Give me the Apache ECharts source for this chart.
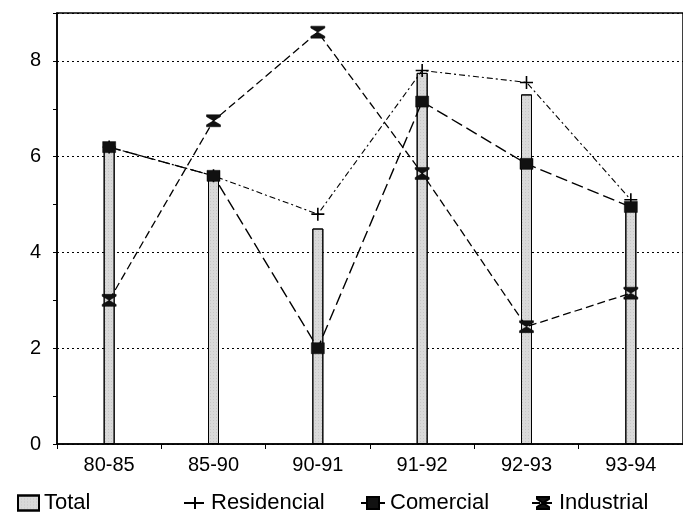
<!DOCTYPE html>
<html>
<head>
<meta charset="utf-8">
<script src="https://cdn.jsdelivr.net/npm/echarts@6/dist/echarts.min.js"></script>
<style>
  html, body { margin: 0; padding: 0; background: #fff; }
  #chart { width: 683px; height: 514px; }
</style>
</head>
<body>
<div id="chart"></div>
<script>
// values
const categories = ['80-85', '85-90', '90-91', '91-92', '92-93', '93-94']
const total = [6.2, 5.6, 4.5, 7.75, 7.3, 5.0]
const residencial = [6.2, 5.6, 4.8, 7.8, 7.55, 5.1]
const comercial = [6.2, 5.6, 2.0, 7.15, 5.85, 4.95]
const industrial = [3.0, 6.75, 8.6, 5.65, 2.45, 3.15]

const font = '"Liberation Sans", Arial, sans-serif'
const plus = 'path://M5,0 L5,10 M0,5 L10,5'
const hourglass = 'path://M0,0 L10,0 L10,1.6 L5,5 L10,8.4 L10,10 L0,10 L0,8.4 L5,5 L0,1.6 Z'

const chart = echarts.init(document.getElementById('chart'))

const lineSeries = (name, data, symbol, size, dash, width, hollow) => ({
  name,
  type: 'line',
  data,
  symbol,
  symbolSize: size,
  z: 3,
  lineStyle: { color: '#000', width, type: dash },
  itemStyle: hollow
    ? { color: 'transparent', borderColor: '#000', borderWidth: 1.6 }
    : { color: '#111', borderColor: '#000', borderWidth: 0.5 }
})

// one legend per item so each sits where it does in the scan
const legendAt = (name, left, width, icon) => ({
  data: [name],
  left,
  top: 487,
  icon,
  itemWidth: width,
  itemHeight: 15,
  textStyle: { fontSize: 22, color: '#000', fontFamily: font }
})

chart.setOption({
  animation: false,
  backgroundColor: '#fff',
  textStyle: { fontFamily: font },
  grid: {
    left: 57,
    right: -2,
    top: 13,
    bottom: 70,
    show: true,
    borderColor: '#000',
    borderWidth: 1.5,
    backgroundColor: 'transparent'
  },
  legend: [
    legendAt('Total', 12, 21, 'rect'),
    legendAt('Residencial', 178, 22),
    legendAt('Comercial', 355, 24),
    legendAt('Industrial', 526, 22)
  ],
  xAxis: {
    type: 'category',
    data: categories,
    boundaryGap: true,
    axisLine: { lineStyle: { color: '#000', width: 1.5 } },
    axisTick: { show: true, length: 5, lineStyle: { color: '#000' } },
    axisLabel: { color: '#000', fontSize: 20, margin: 11, fontFamily: font }
  },
  yAxis: [
    {
      type: 'value',
      min: 0,
      max: 9,
      interval: 1,
      axisLine: { show: true, lineStyle: { color: '#000', width: 1.5 } },
      axisTick: { show: true, length: 4, lineStyle: { color: '#000' } },
      axisLabel: {
        color: '#000',
        fontSize: 20,
        margin: 16,
        fontFamily: font,
        formatter: (v) => (v % 2 === 0 ? String(v) : '')
      },
      splitLine: { show: false }
    },
    {
      type: 'value',
      min: 0,
      max: 9,
      interval: 2,
      position: 'left',
      axisLine: { show: false },
      axisTick: { show: false },
      axisLabel: { show: false },
      splitLine: { show: true, lineStyle: { color: '#000', width: 1, type: [2, 3] } }
    }
  ],
  series: [
    {
      name: 'Total',
      type: 'bar',
      data: total,
      barWidth: 11,
      z: 2,
      itemStyle: {
        color: '#d9d9d9',
        borderColor: '#000',
        borderWidth: 1,
        decal: {
          symbol: 'rect',
          symbolSize: 0.5,
          color: 'rgba(0,0,0,0.35)',
          dashArrayX: [1, 2],
          dashArrayY: [1, 2],
          rotation: 0
        }
      }
    },
    lineSeries('Residencial', residencial, plus, 13, [6, 3, 2, 3], 1.1, true),
    lineSeries('Comercial', comercial, 'rect', [13, 11], [12, 5], 1.4, false),
    lineSeries('Industrial', industrial, hourglass, [14, 12], [8, 4], 1.3, false)
  ]
})
</script>
</body>
</html>
